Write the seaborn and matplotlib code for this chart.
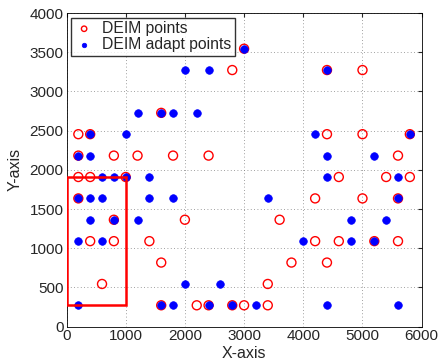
import matplotlib
matplotlib.use("Agg")
import matplotlib.pyplot as plt
import seaborn as sns
import pandas as pd
from matplotlib.patches import Rectangle

# DEIM points (red open circles)
deim_x = [3000,
          2800, 4400, 5000,
          1600,
          200, 400, 4400, 5000, 5800,
          200, 800, 1200, 1800, 2400, 5600,
          200, 400, 1000, 4600, 5400, 5800,
          200, 4200, 5000, 5600,
          800, 2000, 3600,
          400, 800, 1400, 4200, 4600, 5200, 5600,
          1600, 3800, 4400,
          600, 3400,
          1600, 2200, 2400, 2800, 3000, 3400]
deim_y = [3545,
          3273, 3273, 3273,
          2727,
          2455, 2455, 2455, 2455, 2455,
          2182, 2182, 2182, 2182, 2182, 2182,
          1909, 1909, 1909, 1909, 1909, 1909,
          1636, 1636, 1636, 1636,
          1364, 1364, 1364,
          1091, 1091, 1091, 1091, 1091, 1091, 1091,
          818, 818, 818,
          545, 545,
          273, 273, 273, 273, 273, 273]

# DEIM adapt points (blue filled dots)
adapt_x = [3000,
           2000, 2400, 4400,
           1200, 1600, 1800, 2200,
           400, 1000, 4200, 5800,
           200, 400, 4400, 5200,
           600, 800, 1000, 1400, 4400, 5600,
           200, 400, 600, 1400, 1800, 3400, 5600,
           400, 800, 1200, 4800, 5400,
           200, 600, 4000, 4800, 5200,
           2000, 2600,
           200, 1600, 1800, 2400, 2800, 3200, 4400, 5600]
adapt_y = [3545,
           3273, 3273, 3273,
           2727, 2727, 2727, 2727,
           2455, 2455, 2455, 2455,
           2182, 2182, 2182, 2182,
           1909, 1909, 1909, 1909, 1909, 1909,
           1636, 1636, 1636, 1636, 1636, 1636, 1636,
           1364, 1364, 1364, 1364, 1364,
           1091, 1091, 1091, 1091, 1091,
           545, 545,
           273, 273, 273, 273, 273, 273, 273, 273]

# highlighted region
box_x = [0, 1000]
box_y = [273, 1909]

x_ticks = [0, 1000, 2000, 3000, 4000, 5000, 6000]
y_ticks = [0, 500, 1000, 1500, 2000, 2500, 3000, 3500, 4000]

sns.set_style("white")
plt.rcParams['font.family'] = ['Liberation Sans', 'DejaVu Sans']

fig = plt.figure(figsize=(4.41, 3.62), dpi=100)
ax = fig.add_axes([0.1508, 0.0975, 0.8054, 0.8665])

df_r = pd.DataFrame({"x": deim_x, "y": deim_y})
df_b = pd.DataFrame({"x": adapt_x, "y": adapt_y})

sns.scatterplot(data=df_r, x="x", y="y", ax=ax, marker="o", s=42,
                facecolors="none", edgecolor="red", linewidth=1.0,
                label="DEIM points", zorder=3)
sns.scatterplot(data=df_b, x="x", y="y", ax=ax, marker="o", s=30,
                color="blue", edgecolor="blue", linewidth=0.5,
                label="DEIM adapt points", zorder=4)

ax.add_patch(Rectangle((box_x[0], box_y[0]), box_x[1] - box_x[0],
                       box_y[1] - box_y[0], fill=False, edgecolor="red",
                       linewidth=1.8, zorder=5))

ax.set_xlim(0, 6000)
ax.set_ylim(0, 4000)
ax.set_xticks(x_ticks)
ax.set_yticks(y_ticks)
ax.grid(True, linestyle=(0, (1, 3)), color="#808080", linewidth=0.6)
ax.tick_params(direction="in", length=3, labelsize=11, top=True, right=True,
               pad=2)
for sp in ax.spines.values():
    sp.set_color("black")
    sp.set_linewidth(0.6)
ax.set_xlabel("X-axis", fontsize=11.5, labelpad=2)
ax.set_ylabel("Y-axis", fontsize=11.5, labelpad=5)

leg = ax.legend(loc="upper left", bbox_to_anchor=(0.012, 0.985),
                borderaxespad=0, fontsize=11.3, frameon=True, fancybox=False,
                edgecolor="black", markerscale=0.6, handlelength=1.3,
                handletextpad=0.5, borderpad=0.2, labelspacing=0.1)
leg.get_frame().set_linewidth(1.0)
leg.set_zorder(10)

fig.savefig("out.png", dpi=100)
